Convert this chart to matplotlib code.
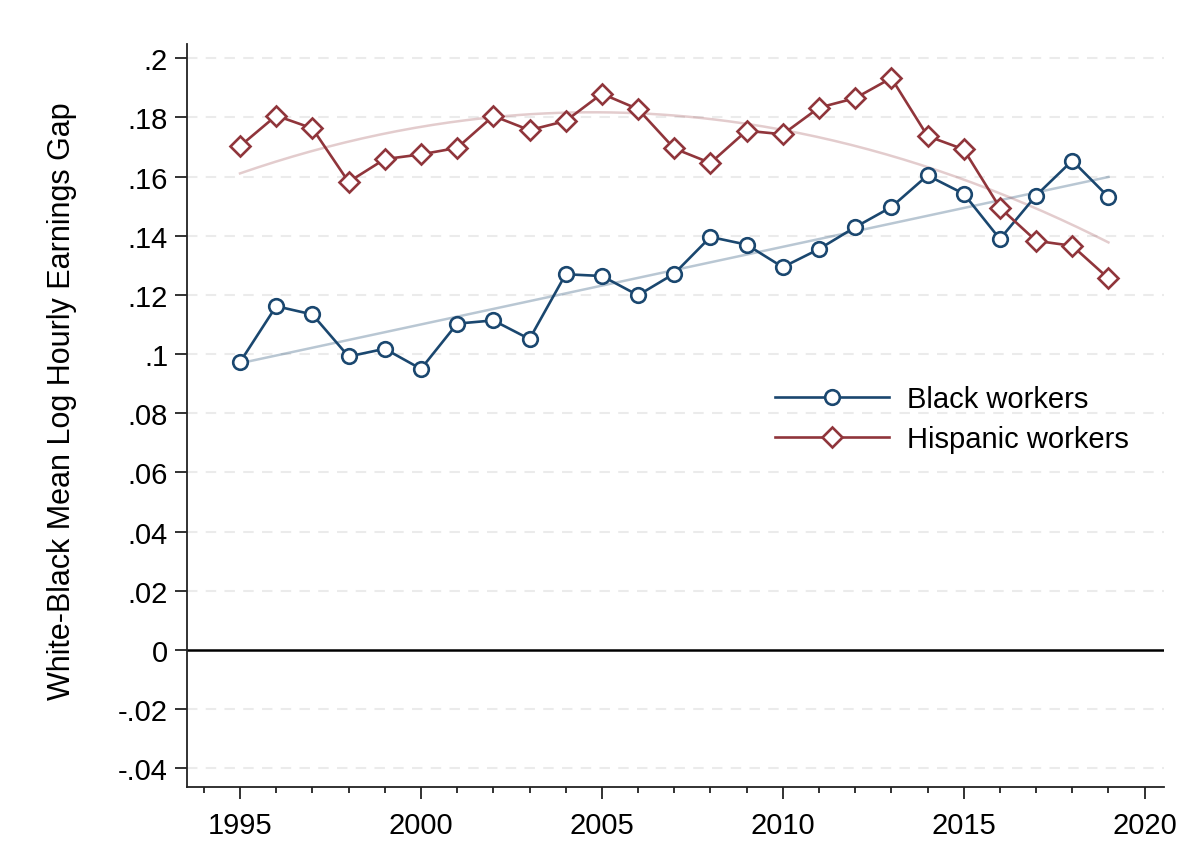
import numpy as np
import matplotlib
matplotlib.use("Agg")
import matplotlib.pyplot as plt
from matplotlib.ticker import MultipleLocator

plt.rcParams["font.family"] = ["Liberation Sans", "DejaVu Sans"]

years = list(range(1995, 2020))
black_gap = [0.0973, 0.1162, 0.1134, 0.0992, 0.1018, 0.0950, 0.1103, 0.1114,
             0.1051, 0.1270, 0.1264, 0.1199, 0.1272, 0.1396, 0.1370, 0.1294,
             0.1355, 0.1429, 0.1497, 0.1604, 0.1542, 0.1389, 0.1536, 0.1654,
             0.1531]
hispanic_gap = [0.1703, 0.1806, 0.1763, 0.1582, 0.1659, 0.1675, 0.1697, 0.1805,
                0.1757, 0.1788, 0.1880, 0.1828, 0.1695, 0.1646, 0.1755, 0.1743,
                0.1833, 0.1865, 0.1933, 0.1737, 0.1692, 0.1495, 0.1383, 0.1366,
                0.1256]
y_ticks = [-0.04, -0.02, 0, 0.02, 0.04, 0.06, 0.08, 0.10, 0.12, 0.14, 0.16, 0.18, 0.20]
y_tick_labels = ["-.04", "-.02", "0", ".02", ".04", ".06", ".08", ".1", ".12",
                 ".14", ".16", ".18", ".2"]
x_ticks = [1995, 2000, 2005, 2010, 2015, 2020]

NAVY = "#1a476f"
MAROON = "#90353b"

x = np.array(years, dtype=float)

# linear trend for Black gap, quadratic for Hispanic gap
black_fit = np.polyval(np.polyfit(x, black_gap, 1), x)
xs = np.linspace(x[0], x[-1], 200)
hisp_fit = np.polyval(np.polyfit(x - 2007, hispanic_gap, 2), xs - 2007)

fig = plt.figure(figsize=(11.9, 8.53), dpi=100)
ax = fig.add_axes([0.157, 0.0762, 0.821, 0.871])

for yv in y_ticks:
    if yv == 0:
        continue
    ax.axhline(yv, color="#ebebeb", lw=1.5, dashes=(5, 4), zorder=0)
ax.axhline(0, color="black", lw=1.8, zorder=1)

ax.plot(x, black_fit, color=NAVY, alpha=0.3, lw=1.8, zorder=2)
ax.plot(xs, hisp_fit, color=MAROON, alpha=0.25, lw=1.8, zorder=2)

ax.plot(x, black_gap, color=NAVY, lw=1.9, marker="o", markersize=10.5,
        markerfacecolor="white", markeredgewidth=1.9, label="Black workers", zorder=3)
ax.plot(x, hispanic_gap, color=MAROON, lw=1.9, marker="D", markersize=10,
        markerfacecolor="white", markeredgewidth=1.9, label="Hispanic workers", zorder=3)

ax.set_xlim(1993.53, 2020.53)
ax.set_ylim(-0.0463, 0.2048)
ax.set_yticks(y_ticks)
ax.set_yticklabels(y_tick_labels)
ax.set_xticks(x_ticks)
ax.xaxis.set_minor_locator(MultipleLocator(1))

for side in ["top", "right"]:
    ax.spines[side].set_visible(False)
for side in ["left", "bottom"]:
    ax.spines[side].set_linewidth(1.3)
    ax.spines[side].set_color("#222222")

ax.tick_params(axis="both", which="major", labelsize=21, length=8.5, width=1.3,
               color="#222222", pad=5)
ax.tick_params(axis="x", which="minor", length=4.5, width=1.3, color="#222222")
ax.tick_params(axis="x", which="major", pad=9)

ax.set_ylabel("White-Black Mean Log Hourly Earnings Gap", fontsize=22)
ax.yaxis.set_label_coords(-0.1126, 0.52)

ax.legend(loc="upper left", bbox_to_anchor=(0.602, 0.541), frameon=False,
          borderpad=0, borderaxespad=0,
          fontsize=21, handlelength=3.9, handletextpad=0.62, labelspacing=0.42)

fig.savefig("out.png", dpi=100)
plt.close(fig)
